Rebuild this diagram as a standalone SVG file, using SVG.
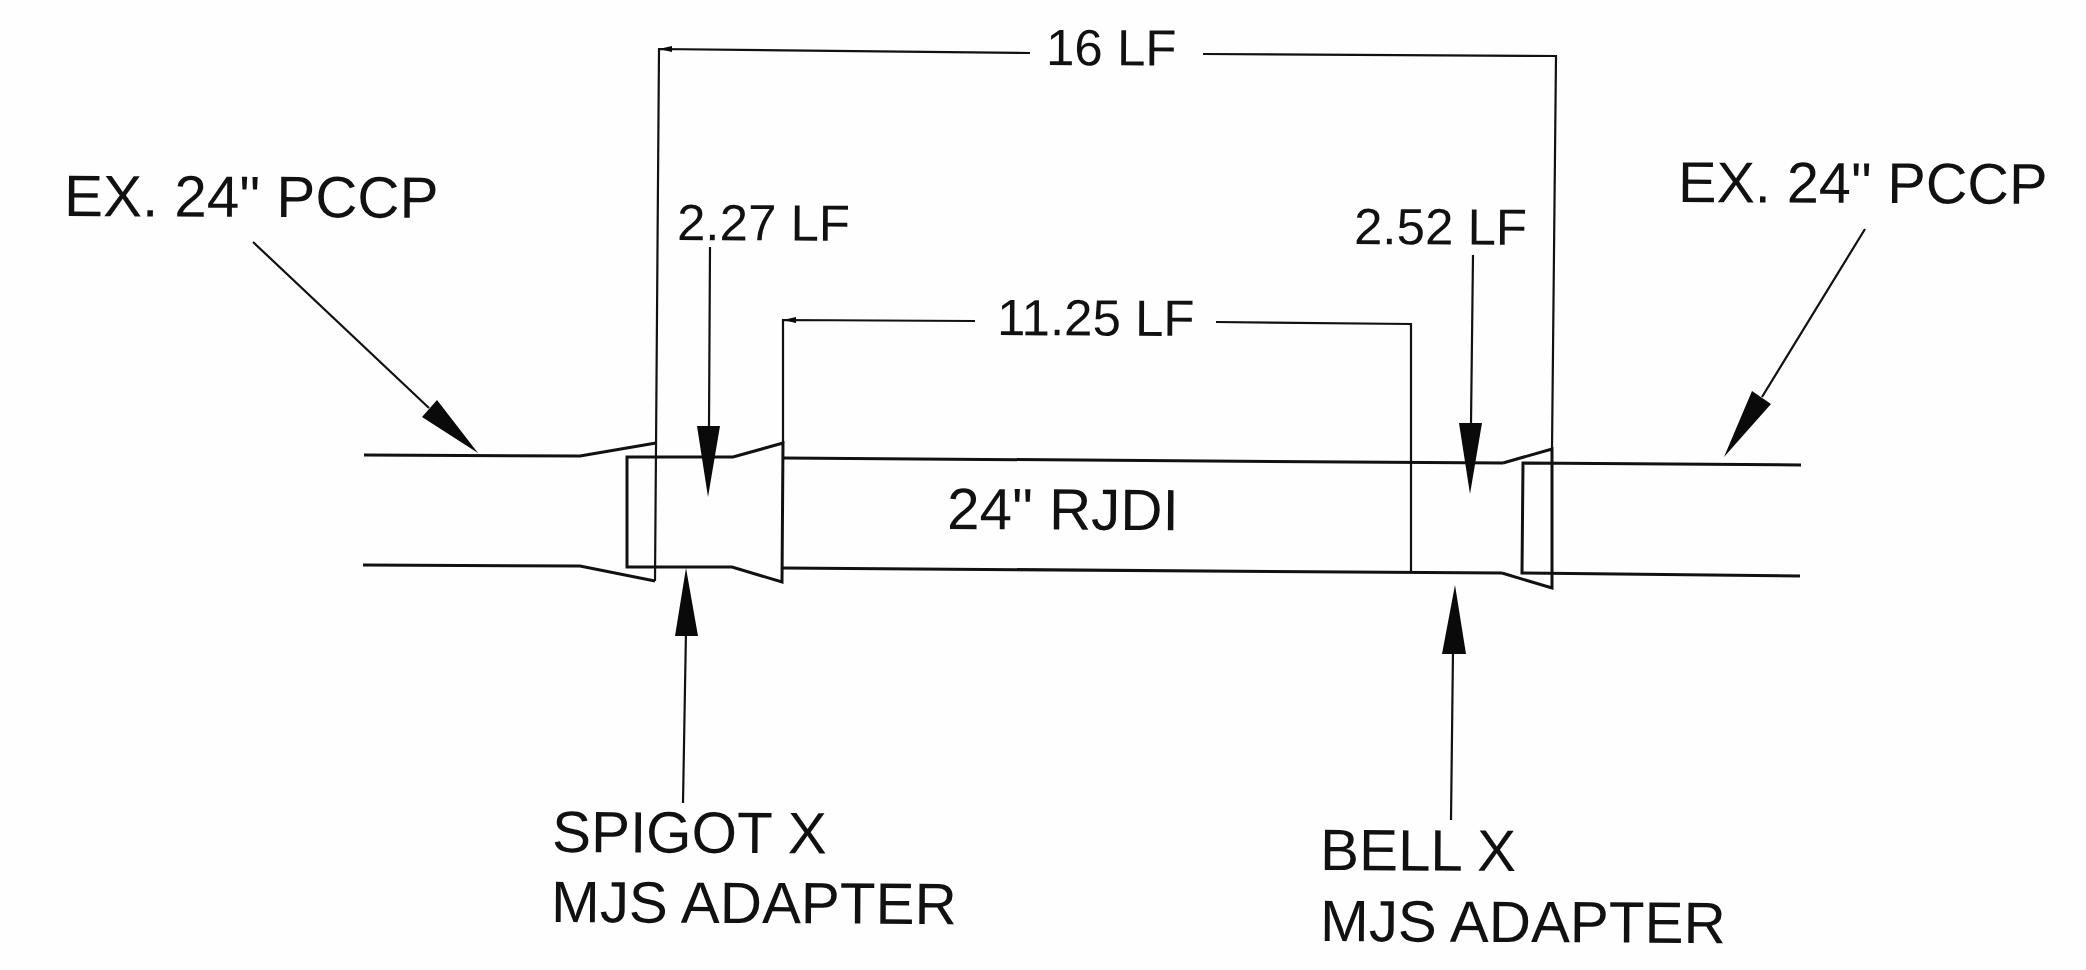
<svg xmlns="http://www.w3.org/2000/svg" width="2086" height="970" viewBox="0 0 2086 970">
<style>
text{font-family:"Liberation Sans",Arial,sans-serif;font-size:58.4px;fill:#111}
.s{font-size:51px}
.w{font-size:57.6px}
.p{fill:none;stroke:#111;stroke-width:3;stroke-linejoin:miter}
.d{fill:none;stroke:#111;stroke-width:2.2}
.a{fill:#0a0a0a;stroke:none}
</style>
<rect width="2086" height="970" fill="#fefefe"/>
<g id="pipe-left"><path class="p" d="M364 455L580 456L656 443M363 565L580 566L655 581"/></g>
<g id="spigot-adapter"><path class="p" d="M733 457L627 457L627 567L732 567L782 582L783 443L733 457Z"/></g>
<g id="pipe-rjdi"><path class="p" d="M783 458L1503 463M782 568L1502 573"/></g>
<g id="bell-adapter"><path class="p" d="M1503 463L1552 449L1552 588L1502 573"/></g>
<g id="pipe-right"><path class="p" d="M1801 465L1523 463L1522 573L1800 576"/></g>
<g id="connectors">
<path class="d" d="M1030 53L659 49L655 581M1203 54L1556 56L1552 449M975 321L783 320L783 443M1216 322L1411 324L1411 573"/>
<path class="a" d="M659 49L672 46L672 52ZM783 320L796 317L796 323Z"/>
<path class="d" d="M253 242L429 408M710 247L709 426M683 803L686 630M1473 255L1471 423M1451 820L1453 650M1865 229L1762 397"/>
<path class="a" d="M478 453L437 400L422 417ZM708 497L697 426L720 426ZM686 568L675 636L698 636ZM1470 494L1459 423L1482 423ZM1455 585L1442 654L1466 654ZM1724 457L1752 391L1771 404Z"/>
</g>
<g id="label-16lf"><text class="s" x="1046" y="65" transform="rotate(0.3 1046 65)">16 LF</text></g>
<g id="label-pccp-left"><text x="64" y="216" transform="rotate(0.3 64 216)">EX. 24" PCCP</text></g>
<g id="label-pccp-right"><text class="w" x="1678" y="202" transform="rotate(0.3 1678 202)">EX. 24" PCCP</text></g>
<g id="label-227"><text class="s" x="677" y="240" transform="rotate(0.3 677 240)">2.27 LF</text></g>
<g id="label-252"><text class="s" x="1354" y="244" transform="rotate(0.3 1354 244)">2.52 LF</text></g>
<g id="label-1125"><text class="s" x="997" y="335" transform="rotate(0.3 997 335)">11.25 LF</text></g>
<g id="label-rjdi"><text x="947" y="529" transform="rotate(0.3 947 529)">24" RJDI</text></g>
<g id="label-spigot"><text x="552" y="852" transform="rotate(0.3 552 852)">SPIGOT X</text><text x="551" y="922" transform="rotate(0.3 551 922)">MJS ADAPTER</text></g>
<g id="label-bell"><text x="1320" y="870" transform="rotate(0.3 1320 870)">BELL X</text><text x="1320" y="941" transform="rotate(0.3 1320 941)">MJS ADAPTER</text></g>
</svg>
